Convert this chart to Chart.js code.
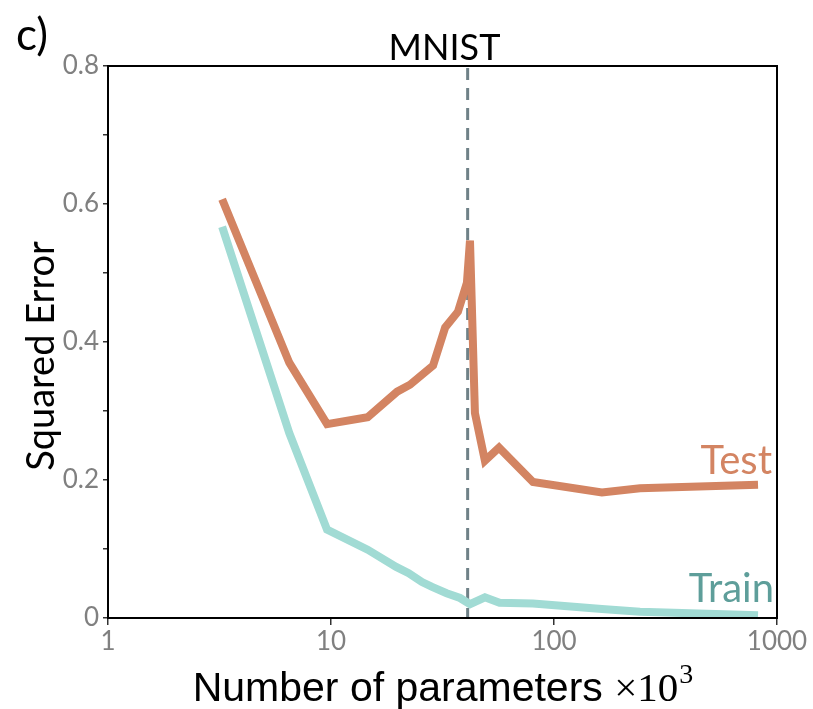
<!DOCTYPE html>
<html>
<head>
<meta charset="utf-8">
<script src="https://cdn.jsdelivr.net/npm/chart.js@4"></script>
<style>
  html, body { margin: 0; padding: 0; background: #ffffff; }
  #wrap { width: 813px; height: 709px; position: relative; }
</style>
</head>
<body>
<div id="wrap"><canvas id="chart" width="813" height="709"></canvas></div>
<script>
// Model size in thousands of parameters, and squared error per run
const testParams  = [3.25, 6.5, 9.6, 14.6, 19.8, 22.6, 28.7, 32.5, 37.1, 40.7, 42, 44.2, 49, 56.7, 80.5, 164, 243, 822];
const testError   = [0.607, 0.370, 0.281, 0.291, 0.328, 0.338, 0.366, 0.421, 0.444, 0.486, 0.547, 0.297, 0.228, 0.247, 0.197, 0.182, 0.188, 0.193];
const trainParams = [3.25, 6.5, 9.6, 14.6, 19.6, 22.3, 25.6, 28.4, 33.0, 37.9, 42, 49, 57, 80.5, 164, 243, 822];
const trainError  = [0.567, 0.268, 0.128, 0.099, 0.074, 0.065, 0.052, 0.045, 0.036, 0.029, 0.020, 0.030, 0.022, 0.021, 0.013, 0.009, 0.004];
const xTickValues = [1, 10, 100, 1000];
const yTickLabels = ['0', '0.2', '0.4', '0.6', '0.8'];
const thresholdParams = 41; // interpolation threshold (n x classes)

const TEST_COLOR  = '#D38462';
const TRAIN_COLOR = '#A1DBD4';
const SANS = 'Lato, "Open Sans", sans-serif';

const toPoints = (xs, ys) => xs.map((x, i) => ({ x: x, y: ys[i] }));

const decorations = {
  id: 'decorations',
  beforeDatasetsDraw(chart) {
    const { ctx, chartArea: a, scales } = chart;
    const x = scales.x.getPixelForValue(thresholdParams);
    ctx.save();
    ctx.strokeStyle = '#6F8187';
    ctx.lineWidth = 3;
    ctx.setLineDash([12, 8]);
    ctx.beginPath();
    ctx.moveTo(x, a.top + 2);
    ctx.lineTo(x, a.bottom);
    ctx.stroke();
    ctx.restore();
  },
  afterDraw(chart) {
    const { ctx, chartArea: a } = chart;
    ctx.save();
    // frame
    ctx.strokeStyle = '#000';
    ctx.lineWidth = 2;
    ctx.strokeRect(a.left, a.top, a.right - a.left, a.bottom - a.top);

    ctx.fillStyle = '#000';
    // panel letter
    ctx.font = '44px ' + SANS;
    ctx.textAlign = 'left';
    ctx.textBaseline = 'alphabetic';
    ctx.fillText('c)', 16, 50);
    // title
    ctx.textAlign = 'center';
    ctx.font = '36px ' + SANS;
    ctx.fillText('MNIST', (a.left + a.right) / 2 + 2, 60);

    // y-axis title
    ctx.save();
    ctx.translate(54, 356);
    ctx.rotate(-Math.PI / 2);
    ctx.font = '38px ' + SANS;
    ctx.textAlign = 'center';
    ctx.fillText('Squared Error', 0, 0);
    ctx.restore();

    // x-axis title
    const t1 = 'Number of parameters ';
    const t2 = '\u00D710';
    const t3 = '3';
    const f1 = '41px "Liberation Sans", sans-serif';
    const f2 = '41px "Liberation Serif", serif';
    const f3 = '28px "Liberation Serif", serif';
    ctx.font = f1; const w1 = ctx.measureText(t1).width;
    ctx.font = f2; const w2 = ctx.measureText(t2).width;
    ctx.font = f3; const w3 = ctx.measureText(t3).width;
    let sx = (a.left + a.right) / 2 - (w1 + w2 + w3) / 2;
    ctx.textAlign = 'left';
    ctx.font = f1; ctx.fillText(t1, sx, 701);
    ctx.font = f2; ctx.fillText(t2, sx + w1, 701);
    ctx.font = f3; ctx.fillText(t3, sx + w1 + w2 + 1, 683);

    // series labels
    ctx.textAlign = 'right';
    ctx.font = '40px ' + SANS;
    ctx.fillStyle = TEST_COLOR;
    ctx.fillText('Test', a.right - 5, 474);
    ctx.fillStyle = '#5E9E9A';
    ctx.fillText('Train', a.right - 3, 602);
    ctx.restore();
  }
};

new Chart(document.getElementById('chart'), {
  type: 'line',
  data: {
    datasets: [
      {
        label: 'Train',
        data: toPoints(trainParams, trainError),
        borderColor: TRAIN_COLOR,
        borderWidth: 8,
        pointRadius: 0,
        tension: 0,
        fill: false
      },
      {
        label: 'Test',
        data: toPoints(testParams, testError),
        borderColor: TEST_COLOR,
        borderWidth: 8,
        pointRadius: 0,
        tension: 0,
        fill: false
      }
    ]
  },
  options: {
    responsive: false,
    animation: false,
    devicePixelRatio: 1,
    layout: { padding: { top: 66, right: 36, left: 0, bottom: 0 } },
    plugins: {
      legend: { display: false },
      tooltip: { enabled: false },
      title: { display: false }
    },
    scales: {
      x: {
        type: 'logarithmic',
        min: 1,
        max: 1000,
        afterBuildTicks(scale) {
          scale.ticks = xTickValues.map(v => ({ value: v }));
        },
        afterFit(scale) { scale.height = 91; },
        ticks: {
          callback: v => String(v),
          color: '#808080',
          font: { family: SANS, size: 26 },
          padding: 1,
          maxRotation: 0,
          autoSkip: false
        },
        grid: {
          drawOnChartArea: false,
          drawTicks: true,
          tickLength: 7,
          tickColor: '#333',
          lineWidth: 1.5
        },
        border: { display: true, color: '#000', width: 2 }
      },
      y: {
        type: 'linear',
        min: 0,
        max: 0.8,
        afterBuildTicks(scale) {
          const t = [];
          for (let i = 0; i <= 8; i++) t.push({ value: i / 10 });
          scale.ticks = t;
        },
        afterFit(scale) { scale.width = 108; },
        ticks: {
          callback: (v) => {
            const k = Math.round(v * 10);
            return k % 2 === 0 ? yTickLabels[k / 2] : '';
          },
          color: '#808080',
          font: { family: SANS, size: 26 },
          padding: 4,
          autoSkip: false
        },
        grid: {
          drawOnChartArea: false,
          drawTicks: true,
          tickLength: 5,
          tickColor: '#333',
          lineWidth: 1.5
        },
        border: { display: true, color: '#000', width: 2 }
      }
    }
  },
  plugins: [decorations]
});
</script>
</body>
</html>
